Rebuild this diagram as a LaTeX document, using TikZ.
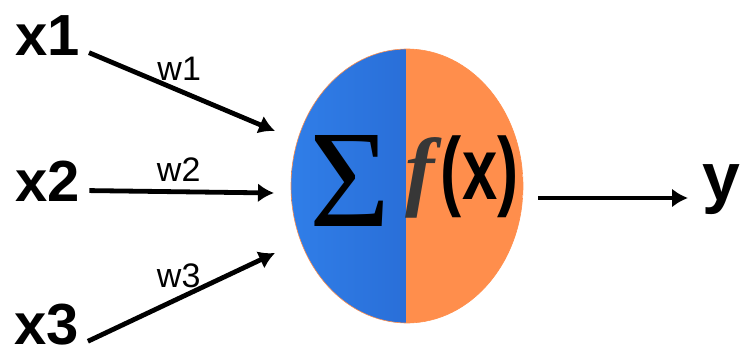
\documentclass[tikz,border=0pt]{standalone}
\usepackage{fontspec}
\setmainfont{Liberation Sans}
\newfontfamily\sigmafont{Liberation Serif}
\usepackage{tikz}
\usetikzlibrary{arrows.meta, positioning, shapes}

\definecolor{nblueL}{RGB}{48,126,232}
\definecolor{nblueD}{RGB}{35,95,200}
\definecolor{norange}{RGB}{255,142,76}
\definecolor{fgray}{RGB}{55,55,55}

\begin{document}
\begin{tikzpicture}[x=1pt, y=-1pt,
    arr/.style={line width=4.8pt, -{Latex[length=16pt,width=19pt]}},
    inlabel/.style={font=\fontsize{58}{58}\selectfont\bfseries, inner sep=3pt},
    wlabel/.style={font=\fontsize{34}{34}\selectfont, inner sep=2pt}]
    \useasboundingbox (0,0) rectangle (740,359);

    % Neuron
    \node (neuron) at (407,186) [ellipse, minimum width=232pt, minimum height=274pt, inner sep=0pt, draw=norange, line width=0.6pt,
        path picture={
            \shade[left color=nblueL, right color=nblueD] (path picture bounding box.south west) rectangle ([xshift=-1pt]path picture bounding box.north);
            \fill[norange] ([xshift=-1pt]path picture bounding box.north) rectangle (path picture bounding box.south east);
        }] {};
    \node (sigma) at (350,181) [font=\sigmafont\fontsize{139}{139}\selectfont, inner sep=0pt] {Σ};
    \node (fx) at (462,177) [inner sep=0pt, font=\fontsize{88}{88}\selectfont]
        {\textcolor{fgray}{\sigmafont\bfseries\itshape f}\kern6pt\scalebox{0.72}[1]{\bfseries(x)}};

    % Inputs and output
    \node (x1) at (48,36) [inlabel] {x1};
    \node (x2) at (48,181) [inlabel] {x2};
    \node (x3) at (47,325) [inlabel] {x3};
    \node (y) at (702,198) [anchor=mid west, inner sep=0pt, font=\fontsize{68}{68}\selectfont\bfseries] {y};

    \coordinate (in1) at (275,131);
    \coordinate (in2) at (274,193);
    \coordinate (in3) at (275,253);

    % Arrows
    \draw[arr, shorten <=6pt] (x1.-22) -- (in1) node[wlabel, midway, above=6pt] {w1};
    \draw[arr, shorten <=6pt] (x2.-15) -- (in2) node[wlabel, midway, above=6pt] {w2};
    \draw[arr, shorten <=6pt] (x3.-28) -- (in3) node[wlabel, midway, above=6pt] {w3};
    \draw[arr, shorten <=15pt, shorten >=14pt] (neuron.east |- y.mid west) -- (y.mid west);
\end{tikzpicture}
\end{document}
